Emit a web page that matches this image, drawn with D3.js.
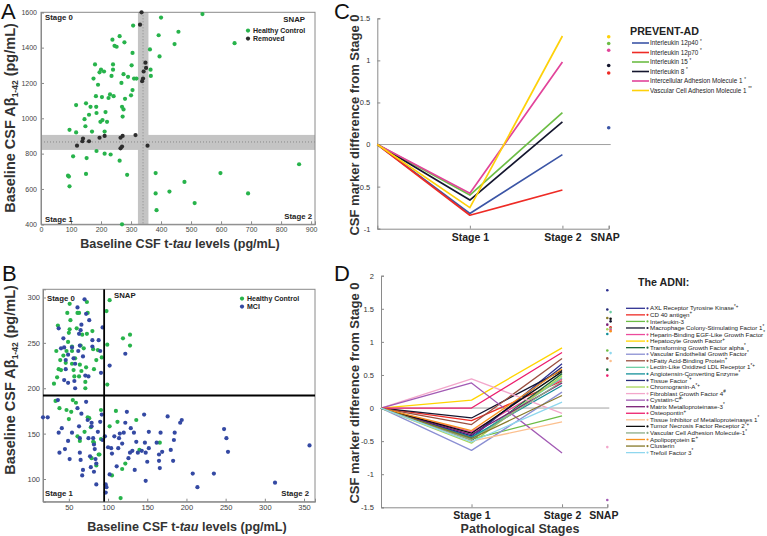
<!DOCTYPE html>
<html>
<head>
<meta charset="utf-8">
<title>CSF markers by pathological stage</title>
<script src="https://cdn.jsdelivr.net/npm/d3@7"></script>
<style>
  body { margin: 0; background: #fff; }
  text { font-family: Helvetica, Arial, "Liberation Sans", sans-serif; }
</style>
</head>
<body>
<script>

// ---- panel A : PREVENT-AD baseline CSF (pg/mL)
var aHealthyTau = [117, 95, 117, 150, 145, 148, 160, 165, 170, 175, 180, 183, 184, 185, 190, 195, 198, 200, 203, 205,
                   210, 212, 215, 220, 225, 230, 235, 238, 240, 240, 242, 245, 252, 262, 268, 270, 272, 275, 275, 278,
                   280, 290, 300, 302, 305, 305, 307, 310, 318,
                   400, 392, 395, 445, 458, 538, 645, 363, 365, 366,
                   90, 93, 95, 107, 150, 152, 185, 212, 232, 262, 287, 270,
                   382, 382, 385, 428, 478, 512, 598, 690, 860];
var aHealthyAb  = [1075, 935, 920, 1085, 995, 955, 1020, 1065, 925, 1225, 1305, 1125, 1065, 1030, 1190, 1260, 980, 1275, 1120, 990,
                   1265, 925, 1035, 980, 1115, 1135, 1240, 1445, 1305, 1275, 1125, 1410, 1405, 1465, 1200, 1065, 1010, 1050, 1250, 1430,
                   1110, 1235, 1130, 1300, 1160, 1370, 1525, 1225, 1225,
                   1570, 1470, 1350, 1420, 1490, 1590, 1425, 1390, 1275, 1240,
                   675, 670, 615, 785, 685, 775, 815, 800, 795, 760, 680, 400,
                   690, 575, 480, 585, 640, 520, 690, 575, 740];
var aRemovedTau = [120, 138, 140, 160, 195, 212, 265, 265, 270, 272, 315, 355, 335, 330, 348, 350, 342, 340, 337];
var aRemovedAb  = [845, 870, 885, 870, 890, 900, 830, 890, 840, 900, 905, 845, 1600, 1530, 1315, 1285, 1265, 1225, 1210];
var aTauCut = 340, aTauBand = [323, 358];
var aAbCut = 866, aAbBand = [821, 906];
var aTauTicks = [0, 100, 200, 300, 400, 500, 600, 700, 800, 900];
var aAbTicks = [400, 600, 800, 1000, 1200, 1400, 1600];

// ---- panel B : ADNI baseline CSF (pg/mL)
var bHealthyTau = [51, 48, 63, 36, 34, 31, 35, 37, 40, 39, 43, 46, 47, 49, 50, 51, 52, 54, 54, 54,
                   56, 57, 58, 60, 61, 63, 64, 65, 66, 67, 69, 71, 71, 72, 73, 73, 74, 80, 81, 82,
                   85, 87, 92, 98, 99, 102, 99, 119, 128, 128,
                   33, 38, 47, 55, 53, 50, 59, 61, 64, 70, 74, 76, 78, 81, 82, 88, 89, 79, 85, 91,
                   91, 110, 112, 102, 136, 140, 122, 118, 105, 116, 166];
var bHealthyAb  = [293, 283, 283, 269, 241, 205, 212, 221, 220, 231, 236, 228, 241, 251, 261, 265, 275, 241, 227, 246,
                   220, 213, 233, 266, 283, 213, 226, 247, 219, 259, 244, 207, 200, 223, 295, 260, 283, 263, 243, 221,
                   231, 242, 234, 285, 248, 297, 204, 255, 259, 247,
                   186, 178, 176, 187, 174, 166, 184, 147, 142, 152, 168, 167, 157, 141, 140, 127, 127, 123, 115, 176,
                   144, 175, 163, 158, 165, 132, 117, 111, 104, 79, 140];
var bMciTau = [70, 61, 72, 76, 66, 65, 37, 43, 44, 40, 49, 54, 62, 64, 68, 46, 56, 58, 46, 44,
               49, 58, 57, 71, 75, 80, 80, 88, 93, 90, 91, 102, 122, 63,
               17, 23, 36, 37, 41, 38, 45, 49, 51, 54, 61, 66, 64, 64, 65, 63, 68, 67, 72, 74,
               75, 77, 78, 79, 79, 81, 82, 83, 84, 85, 87, 82, 85, 90, 92, 93, 96, 97, 98, 97,
               100, 102, 104, 105, 108, 111, 113, 114, 115, 118, 120, 122, 124, 126, 128, 129, 131, 133, 134, 136,
               138, 143, 146, 147, 148, 150, 152, 152, 148, 162, 165, 167, 165, 166, 169, 176, 180, 183, 184, 185,
               192, 194, 208, 214, 235, 248, 251, 253, 313, 357];
var bMciAb  = [298, 289, 282, 275, 270, 264, 266, 255, 245, 244, 237, 245, 241, 247, 235, 231, 233, 227, 221, 209,
               206, 200, 208, 214, 213, 246, 253, 253, 267, 241, 217, 225, 238, 260,
               168, 168, 187, 151, 156, 129, 133, 142, 122, 151, 178, 172, 145, 129, 121, 158, 110, 104, 185, 165,
               145, 125, 113, 162, 158, 145, 138, 133, 122, 117, 152, 108, 94, 163, 171, 143, 147, 94, 91, 85,
               135, 105, 134, 128, 147, 114, 134, 145, 150, 139, 151, 162, 174, 123, 129, 156, 131, 151, 110, 141,
               129, 131, 171, 140, 129, 119, 152, 134, 98, 140, 127, 151, 120, 112, 130, 169, 132, 120, 143, 151,
               162, 165, 106, 91, 106, 155, 145, 130, 96, 137];
var bTauCut = 95, bAbCut = 192;
var bTauTicks = [50, 100, 150, 200, 250, 300, 350];
var bAbTicks = [100, 150, 200, 250, 300];

// ---- panel C : PREVENT-AD markers, difference from Stage 0
var stageNames = ["Stage 1", "Stage 2", "SNAP"];
var cMarkers = ["Interleukin 12p40", "Interleukin 12p70", "Interleukin 15", "Interleukin 8",
                "Intercellular Adhesion Molecule 1", "Vascular Cell Adhesion Molecule 1"];
var cNotes  = ["*", "*", "*", "*", "*", "**"];
var cStage1 = [-0.82, -0.84, -0.60, -0.66, -0.58, -0.75];
var cStage2 = [-0.12, -0.54, 0.38, 0.27, 0.98, 1.29];
var cSnap   = [0.20, 0.85, 1.20, 0.94, 1.12, 1.28];
var cTicks  = [-1, -0.5, 0, 0.5, 1, 1.5];

// ---- panel D : ADNI markers, difference from Stage 0
var dMarkers = ["AXL Receptor Tyrosine Kinase", "CD 40 antigen", "Interleukin-3", "Macrophage Colony-Stimulating Factor 1",
                "Heparin-Binding EGF-Like Growth Factor", "Hepatocyte Growth Factor", "Transforming Growth Factor alpha",
                "Vascular Endothelial Growth Factor", "hFatty Acid-Binding Protein", "Lectin-Like Oxidized LDL Receptor 1",
                "Angiotensin-Converting Enzyme", "Tissue Factor", "Chromogranin-A", "Fibroblast Growth Factor 4",
                "Cystatin-C", "Matrix Metalloproteinase-3", "Osteopontin", "Tissue Inhibitor of Metalloproteinases 1",
                "Tumor Necrosis Factor Receptor 2", "Vascular Cell Adhesion Molecule-1", "Apolipoprotein E",
                "Clusterin", "Trefoil Factor 3"];
var dNotes  = ["*+", "+", "*", "*", "*", "+", "*", "*", "+", "*+", "*", "*+", "*+", "#", "#-",
               "*", "+", "*", "*+", "*", "+", "*", "*"];
var dStage1 = [-0.45, -0.19, -0.47, -0.15, -0.36, 0.12, -0.49, -0.64, -0.25, -0.47, -0.44, -0.42, -0.53, 0.44,
               0.38, -0.40, 0.00, -0.50, -0.38, -0.48, -0.34, -0.46, -0.51];
var dStage2 = [0.67, 0.41, -0.12, 0.57, 0.44, 0.91, 0.52, 0.24, 0.75, 0.46, 0.34, 0.62, 0.49, -0.08,
               -0.68, 0.38, 0.84, -0.21, 0.55, 0.40, 0.59, 0.19, 0.09];
var dSnap   = [1.78, 1.22, 0.87, 1.31, 1.18, null, 0.58, null, 0.75, 1.45, 1.12, 1.49, 1.19, -0.59,
               -1.39, 1.26, 0.49, 0.71, 1.35, 1.20, 1.16, 1.36, 0.83];
var dTicks  = [-1.5, -1, -0.5, 0, 0.5, 1, 1.5, 2];

var cColors = ["#3b55a6", "#ee2b25", "#6cbd45", "#14162e", "#e2449a", "#fed10a"];
var dColors = ["#2e3192", "#ee2b25", "#6cbd45", "#15152f", "#ec4b9c", "#ffd400", "#1f6b3a", "#8b8fd3",
               "#9b5040", "#6fcfa5", "#15909a", "#262a78", "#a8d65a", "#f3a7cb", "#a25ab4", "#7b2077",
               "#ec1e6d", "#fcc08e", "#0d0d0d", "#8bac86", "#f7931e", "#877a2a", "#8fd7ee"];
var green = "#27b34b", blue = "#3449a3";

var width = 767, height = 536;
var svg = d3.select("body").append("svg")
            .attr("width", width)
            .attr("height", height);

function styleAxis(g, size, col) {
  g.select(".domain").attr("stroke", "#8a8a8a");
  g.selectAll(".tick line").attr("stroke", "#8a8a8a");
  g.selectAll(".tick text").attr("font-size", size).attr("fill", col || "#444");
}
var plain = function(d) { return String(d); };

// ================= A =================
var xA = d3.scaleLinear().domain([0, 913]).range([41, 315]);
var yA = d3.scaleLinear().domain([400, 1600]).range([224.3, 12.3]);
var gA = svg.append("g");

gA.append("rect")
  .attr("x", xA(aTauBand[0])).attr("width", xA(aTauBand[1]) - xA(aTauBand[0]))
  .attr("y", yA(1600)).attr("height", yA(400) - yA(1600))
  .attr("fill", "#c4c4c4");
gA.append("rect")
  .attr("x", xA(0)).attr("width", xA(913) - xA(0))
  .attr("y", yA(aAbBand[1])).attr("height", yA(aAbBand[0]) - yA(aAbBand[1]))
  .attr("fill", "#c4c4c4");
gA.append("line")
  .attr("x1", xA(aTauCut)).attr("x2", xA(aTauCut)).attr("y1", yA(1600)).attr("y2", yA(400))
  .attr("stroke", "#888").attr("stroke-dasharray", "1,2");
gA.append("line")
  .attr("x1", xA(0)).attr("x2", xA(913)).attr("y1", yA(aAbCut)).attr("y2", yA(aAbCut))
  .attr("stroke", "#888").attr("stroke-dasharray", "1,2");

gA.append("g").attr("transform", "translate(" + xA(0) + ",0)")
  .call(d3.axisLeft(yA).tickValues(aAbTicks).tickSize(-3).tickPadding(4).tickFormat(plain))
  .call(styleAxis, 7);
gA.append("g").attr("transform", "translate(0," + yA(400) + ")")
  .call(d3.axisBottom(xA).tickValues(aTauTicks).tickSize(-3).tickPadding(3).tickFormat(plain))
  .call(styleAxis, 7);
gA.append("rect")
  .attr("x", xA(0)).attr("y", yA(1600))
  .attr("width", xA(913) - xA(0)).attr("height", yA(400) - yA(1600))
  .attr("fill", "none").attr("stroke", "#8a8a8a");

gA.selectAll("circle.hc").data(aHealthyTau).enter().append("circle")
  .attr("cx", function(d) { return xA(d); })
  .attr("cy", function(d, i) { return yA(aHealthyAb[i]); })
  .attr("r", 2.1).attr("fill", green);
gA.selectAll("circle.rm").data(aRemovedTau).enter().append("circle")
  .attr("cx", function(d) { return xA(d); })
  .attr("cy", function(d, i) { return yA(aRemovedAb[i]); })
  .attr("r", 2.1).attr("fill", "#2d2d2d");

// ================= B =================
var xB = d3.scaleLinear().domain([17, 364]).range([43, 315]);
var yB = d3.scaleLinear().domain([75, 309]).range([501.7, 289.3]);
var gB = svg.append("g");

gB.append("g").attr("transform", "translate(" + xB(17) + ",0)")
  .call(d3.axisLeft(yB).tickValues(bAbTicks).tickSize(-3).tickPadding(3).tickFormat(plain))
  .call(styleAxis, 7.5);
gB.append("g").attr("transform", "translate(0," + yB(75) + ")")
  .call(d3.axisBottom(xB).tickValues(bTauTicks).tickSize(-3).tickPadding(3).tickFormat(plain))
  .call(styleAxis, 7.5);
gB.append("rect")
  .attr("x", xB(17)).attr("y", yB(309))
  .attr("width", xB(364) - xB(17)).attr("height", yB(75) - yB(309))
  .attr("fill", "none").attr("stroke", "#8a8a8a");

gB.selectAll("circle.hc").data(bHealthyTau).enter().append("circle")
  .attr("cx", function(d) { return xB(d); })
  .attr("cy", function(d, i) { return yB(bHealthyAb[i]); })
  .attr("r", 2.1).attr("fill", green);
gB.selectAll("circle.mci").data(bMciTau).enter().append("circle")
  .attr("cx", function(d) { return xB(d); })
  .attr("cy", function(d, i) { return yB(bMciAb[i]); })
  .attr("r", 2.1).attr("fill", blue);

gB.append("line")
  .attr("x1", xB(bTauCut)).attr("x2", xB(bTauCut)).attr("y1", yB(309)).attr("y2", yB(75))
  .attr("stroke", "#000").attr("stroke-width", 1.8);
gB.append("line")
  .attr("x1", xB(17)).attr("x2", xB(364)).attr("y1", yB(bAbCut)).attr("y2", yB(bAbCut))
  .attr("stroke", "#000").attr("stroke-width", 1.8);

// labels for A and B
function boldText(x, y, s, size, anchor) {
  return svg.append("text").attr("x", x).attr("y", y).text(s)
    .attr("font-size", size).attr("font-weight", "bold")
    .attr("text-anchor", anchor || "start").attr("fill", "#222");
}
boldText(45, 19.5, "Stage 0", 7.8);
boldText(45, 222, "Stage 1", 7.8);
boldText(312, 219, "Stage 2", 7.8, "end");
boldText(305, 22, "SNAP", 7.8, "end");
svg.append("circle").attr("cx", 248).attr("cy", 30.6).attr("r", 2.1).attr("fill", green);
svg.append("circle").attr("cx", 248).attr("cy", 38.6).attr("r", 2.1).attr("fill", "#2d2d2d");
boldText(253, 33, "Healthy Control", 7);
boldText(253, 41, "Removed", 7);

boldText(47, 300.5, "Stage 0", 7.8);
boldText(114, 298, "SNAP", 7.8);
boldText(45, 495.5, "Stage 1", 7.8);
boldText(309, 495.5, "Stage 2", 7.8, "end");
svg.append("circle").attr("cx", 242).attr("cy", 298.6).attr("r", 2.1).attr("fill", green);
svg.append("circle").attr("cx", 242).attr("cy", 306.6).attr("r", 2.1).attr("fill", blue);
boldText(247, 301, "Healthy Control", 7);
boldText(247, 309, "MCI", 7);

function xTitle(x, y) {
  var t = svg.append("text").attr("x", x).attr("y", y).attr("text-anchor", "middle")
    .attr("font-size", 12.6).attr("font-weight", "bold").attr("fill", "#333");
  t.append("tspan").text("Baseline CSF t-");
  t.append("tspan").attr("font-style", "italic").text("tau");
  t.append("tspan").text(" levels (pg/mL)");
}
function yTitle(x, y) {
  var t = svg.append("text").attr("transform", "translate(" + x + "," + y + ") rotate(-90)")
    .attr("text-anchor", "middle").attr("font-size", 14.5).attr("font-weight", "bold").attr("fill", "#333");
  t.append("tspan").text("Baseline CSF A\u03b2");
  t.append("tspan").attr("font-size", 8.5).attr("dy", 3).text("1-42");
  t.append("tspan").attr("dy", -3).text(" (pg/mL)");
}
xTitle(180, 248);
yTitle(15, 118);
xTitle(187, 531);
yTitle(15, 380);

// ================= C and D =================
function stagePanel(g, x, y, ticks, s1, s2, snap, colors, lw) {
  g.append("line")
    .attr("x1", x(0)).attr("x2", x(2.5) + 2).attr("y1", y(0)).attr("y2", y(0))
    .attr("stroke", "#a0a0a0").attr("stroke-width", 1);
  g.append("g").attr("transform", "translate(" + x(0) + ",0)")
    .call(d3.axisLeft(y).tickValues(ticks).tickSize(-3).tickPadding(7).tickFormat(plain))
    .call(styleAxis, 7.5, "#333");
  var ax = g.append("g").attr("transform", "translate(0," + y.range()[0] + ")")
    .call(d3.axisBottom(x).tickValues([1, 2, 2.5]).tickSize(-3).tickPadding(4.5)
      .tickFormat(function(d, i) { return stageNames[i]; }))
    .call(styleAxis, 10.5, "#222");
  ax.selectAll(".tick text").attr("font-weight", "bold")
    .attr("dx", function(d) { return d === 2.5 ? -4 : 0; });

  var line = d3.line().x(function(d) { return x(d[0]); }).y(function(d) { return y(d[1]); });
  g.selectAll("path.series").data(s1).enter().append("path")
    .attr("d", function(d, i) { return line([[0, 0], [1, s1[i]], [2, s2[i]]]); })
    .attr("fill", "none").attr("stroke", function(d, i) { return colors[i]; })
    .attr("stroke-width", lw).attr("stroke-linejoin", "round");

  // SNAP dots; a dot that would overlap its neighbour moves to a second column
  var order = d3.range(snap.length).filter(function(i) { return snap[i] !== null; })
    .sort(function(a, b) { return snap[b] - snap[a]; });
  var lastCol = [-99, -99];
  order.forEach(function(i) {
    var py = y(snap[i]);
    var col = (py - lastCol[0] > 4) ? 0 : 1;
    lastCol[col] = py;
    g.append("circle").attr("cx", x(2.5) + (col ? 3.3 : 0)).attr("cy", py)
      .attr("r", lw > 1.4 ? 1.8 : 1.3).attr("fill", colors[i]);
  });
}

var xC = d3.scaleLinear().domain([0, 2.5]).range([377.3, 608.7]);
var yC = d3.scaleLinear().domain([-1, 1.5]).range([228.7, 18.3]);
stagePanel(svg.append("g"), xC, yC, cTicks, cStage1, cStage2, cSnap, cColors, 1.7);

var xD = d3.scaleLinear().domain([0, 2.5]).range([381, 607.3]);
var yD = d3.scaleLinear().domain([-1.5, 2]).range([507.3, 275.7]);
stagePanel(svg.append("g"), xD, yD, dTicks, dStage1, dStage2, dSnap, dColors, 1.3);

function yTitle2(x, y) {
  svg.append("text").attr("transform", "translate(" + x + "," + y + ") rotate(-90)")
    .attr("text-anchor", "middle").attr("font-size", 13).attr("font-weight", "bold").attr("fill", "#333")
    .text("CSF marker difference from Stage 0");
}
yTitle2(359, 125);
yTitle2(359, 393);
boldText(520, 533, "Pathological Stages", 12.5, "middle").attr("fill", "#333");

// legends
boldText(630, 34.5, "PREVENT-AD", 10.7);
cMarkers.forEach(function(m, i) {
  var ly = 43 + 9.5 * i;
  svg.append("line").attr("x1", 632).attr("x2", 649).attr("y1", ly).attr("y2", ly)
    .attr("stroke", cColors[i]).attr("stroke-width", 1.6);
  var t = svg.append("text").attr("x", 650).attr("y", ly + 2.2).attr("font-size", 6.3).attr("fill", "#222");
  t.append("tspan").text(m + " ");
  t.append("tspan").attr("font-size", 4.5).attr("dy", -2.5).text(cNotes[i]);
});

boldText(638, 286, "The ADNI:", 10.7);
dMarkers.forEach(function(m, i) {
  var ly = 308.3 + 6.56 * i;
  svg.append("line").attr("x1", 626).attr("x2", 645).attr("y1", ly).attr("y2", ly)
    .attr("stroke", dColors[i]).attr("stroke-width", 1.3);
  svg.append("circle").attr("cx", 647.5).attr("cy", ly).attr("r", 1.1).attr("fill", dColors[i]);
  var t = svg.append("text").attr("x", 650).attr("y", ly + 2.1).attr("font-size", 6.2).attr("fill", "#222");
  t.append("tspan").text(m);
  t.append("tspan").attr("font-size", 4.5).attr("dy", -2.5).text(dNotes[i]);
});

// panel letters
[["A", 1, 19], ["B", 2, 281], ["C", 334, 19], ["D", 334, 281]].forEach(function(p) {
  svg.append("text").attr("x", p[1]).attr("y", p[2]).text(p[0])
    .attr("font-size", 22).attr("fill", "#111");
});

</script>
</body>
</html>
